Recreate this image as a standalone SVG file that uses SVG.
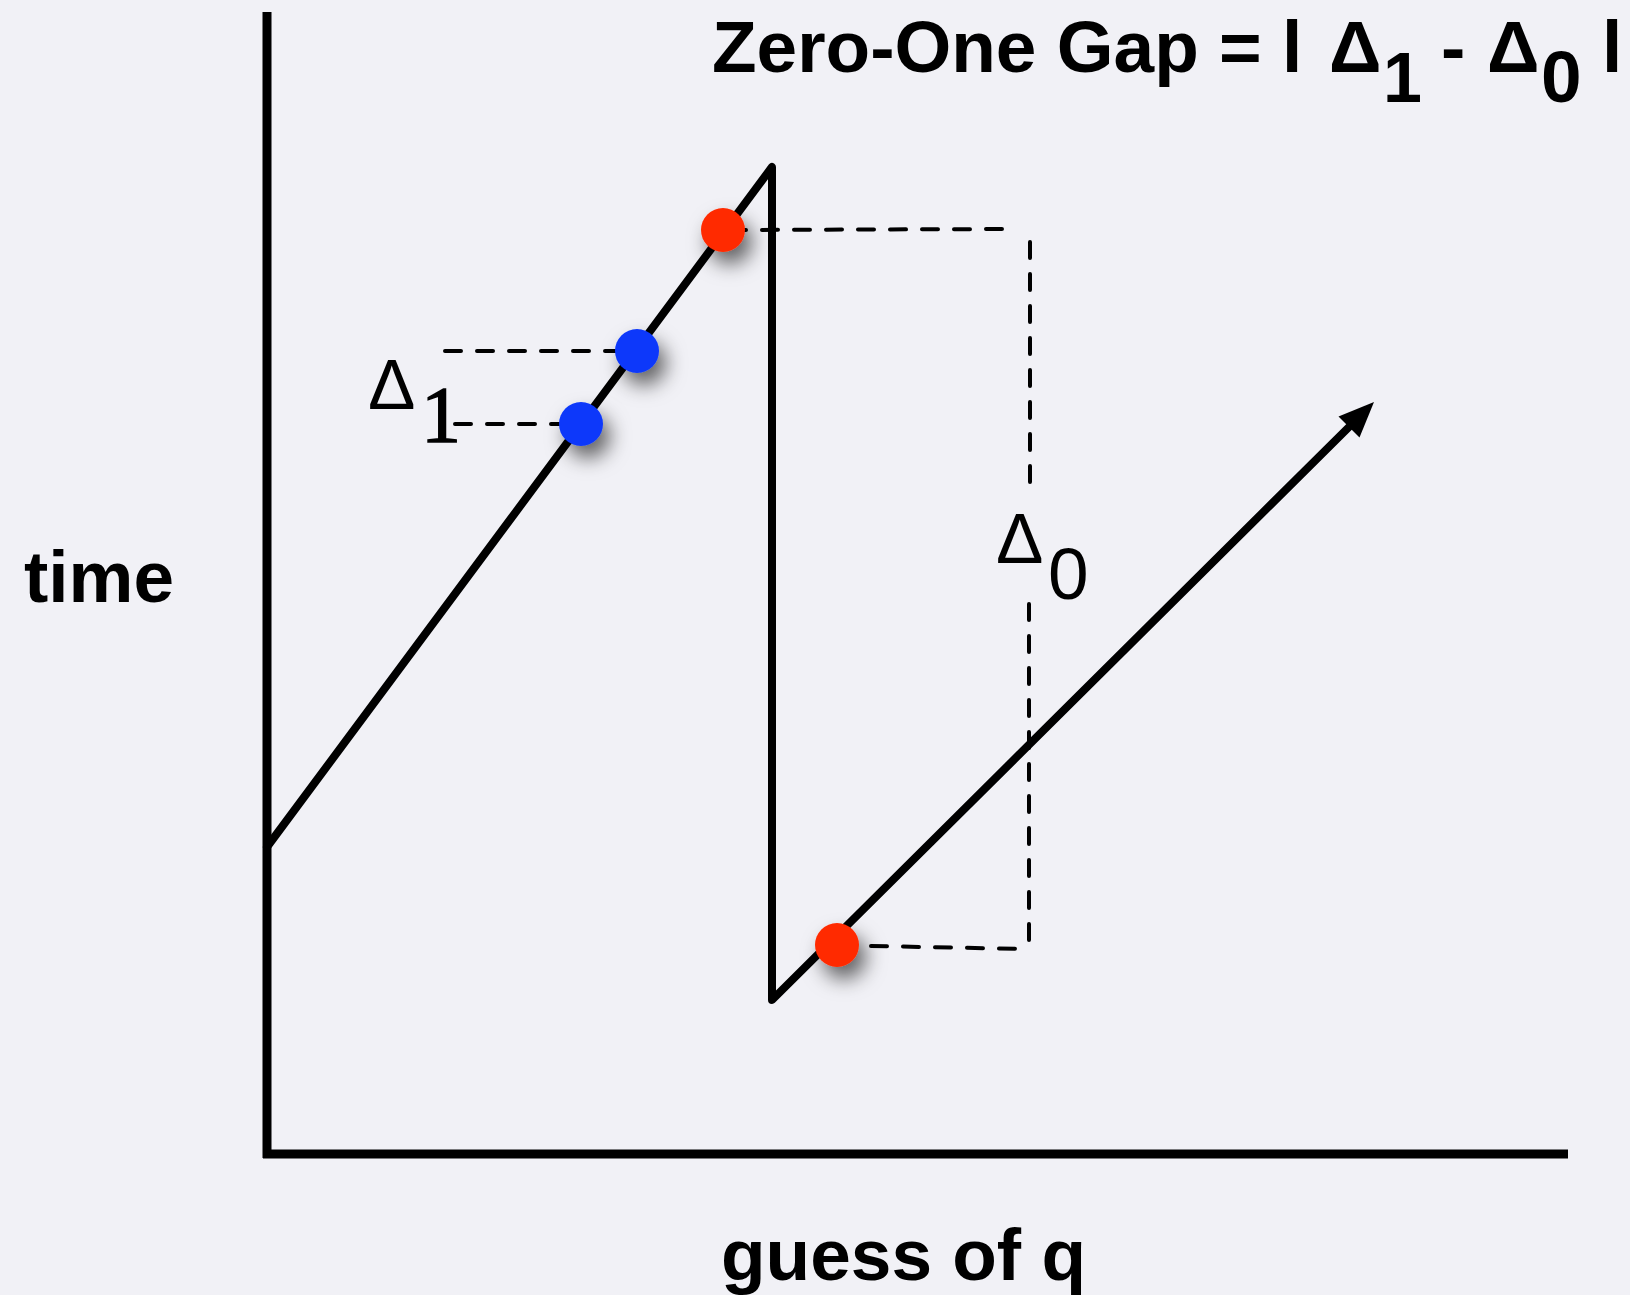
<svg xmlns="http://www.w3.org/2000/svg" width="1630" height="1295" viewBox="0 0 1630 1295">
  <style>
    .axis { stroke: #000; stroke-width: 9; fill: none; stroke-linecap: butt; }
    .plot { stroke: #000; stroke-width: 8; fill: none; stroke-linejoin: round; stroke-linecap: round; }
    .dash { stroke: #000; stroke-width: 4; fill: none; stroke-dasharray: 16 16; stroke-linecap: round; }
    .bold { font-family: "Liberation Sans", Arial, sans-serif; font-weight: bold; font-size: 73px; fill: #000; }
    .lab { font-family: "Liberation Sans", Arial, sans-serif; font-size: 71px; fill: #000; }
    .red { fill: #ff2b00; }
    .blue { fill: #0b38fa; }
  </style>
  <defs>
    <filter id="shadow" x="-150%" y="-150%" width="400%" height="400%">
      <feDropShadow dx="7" dy="12" stdDeviation="10" flood-color="#000" flood-opacity="0.6"/>
    </filter>
  </defs>
  <rect x="0" y="0" width="1630" height="1295" fill="#f1f1f6"/>

  <g id="axes">
    <line class="axis" x1="267" y1="12" x2="267" y2="1158"/>
    <line class="axis" x1="263" y1="1154" x2="1568" y2="1154"/>
  </g>

  <g id="connectors">
    <path class="plot" d="M267,847 L772,167 L772,1000 L1350,426"/>
    <polygon points="1374,402 1359.5,437.5 1338.5,416.5" fill="#000"/>
    <line class="dash" x1="730" y1="230" x2="1011" y2="229"/>
    <line class="dash" x1="1030" y1="242" x2="1030" y2="488"/>
    <line class="dash" x1="1029" y1="604" x2="1029" y2="949"/>
    <line class="dash" x1="871" y1="946" x2="1028" y2="949"/>
    <line class="dash" x1="445" y1="351" x2="630" y2="351"/>
    <line class="dash" x1="455" y1="424" x2="575" y2="424"/>
  </g>

  <g id="point-red-top" filter="url(#shadow)"><circle class="red" cx="723" cy="230" r="22"/></g>
  <g id="point-blue-top" filter="url(#shadow)"><circle class="blue" cx="637" cy="351" r="22"/></g>
  <g id="point-blue-bottom" filter="url(#shadow)"><circle class="blue" cx="581" cy="424" r="22"/></g>
  <g id="point-red-bottom" filter="url(#shadow)"><circle class="red" cx="837" cy="945" r="22"/></g>

  <g id="label-delta1">
    <text class="lab" x="368" y="409">Δ</text>
    <text x="421" y="442" style="font-family:'Liberation Serif','Times New Roman',serif;font-size:80px;fill:#000;stroke:#000;stroke-width:1.5">1</text>
  </g>
  <g id="label-delta0">
    <text class="lab" x="996" y="563">Δ</text>
    <text class="lab" x="1048" y="599" style="font-size:73px">0</text>
  </g>

  <g id="title">
    <text class="bold" x="712" y="72">Zero-One Gap = l</text>
    <text class="bold" x="1329" y="72">Δ</text>
    <text class="bold" x="1383" y="102" style="font-size:70px">1</text>
    <text class="bold" x="1441" y="72">-</text>
    <text class="bold" x="1487" y="72">Δ</text>
    <text class="bold" x="1541" y="102">0</text>
    <text class="bold" x="1602" y="72">l</text>
  </g>
  <g id="label-time"><text class="bold" x="24" y="602">time</text></g>
  <g id="label-guess"><text class="bold" x="721" y="1280">guess of q</text></g>
</svg>
